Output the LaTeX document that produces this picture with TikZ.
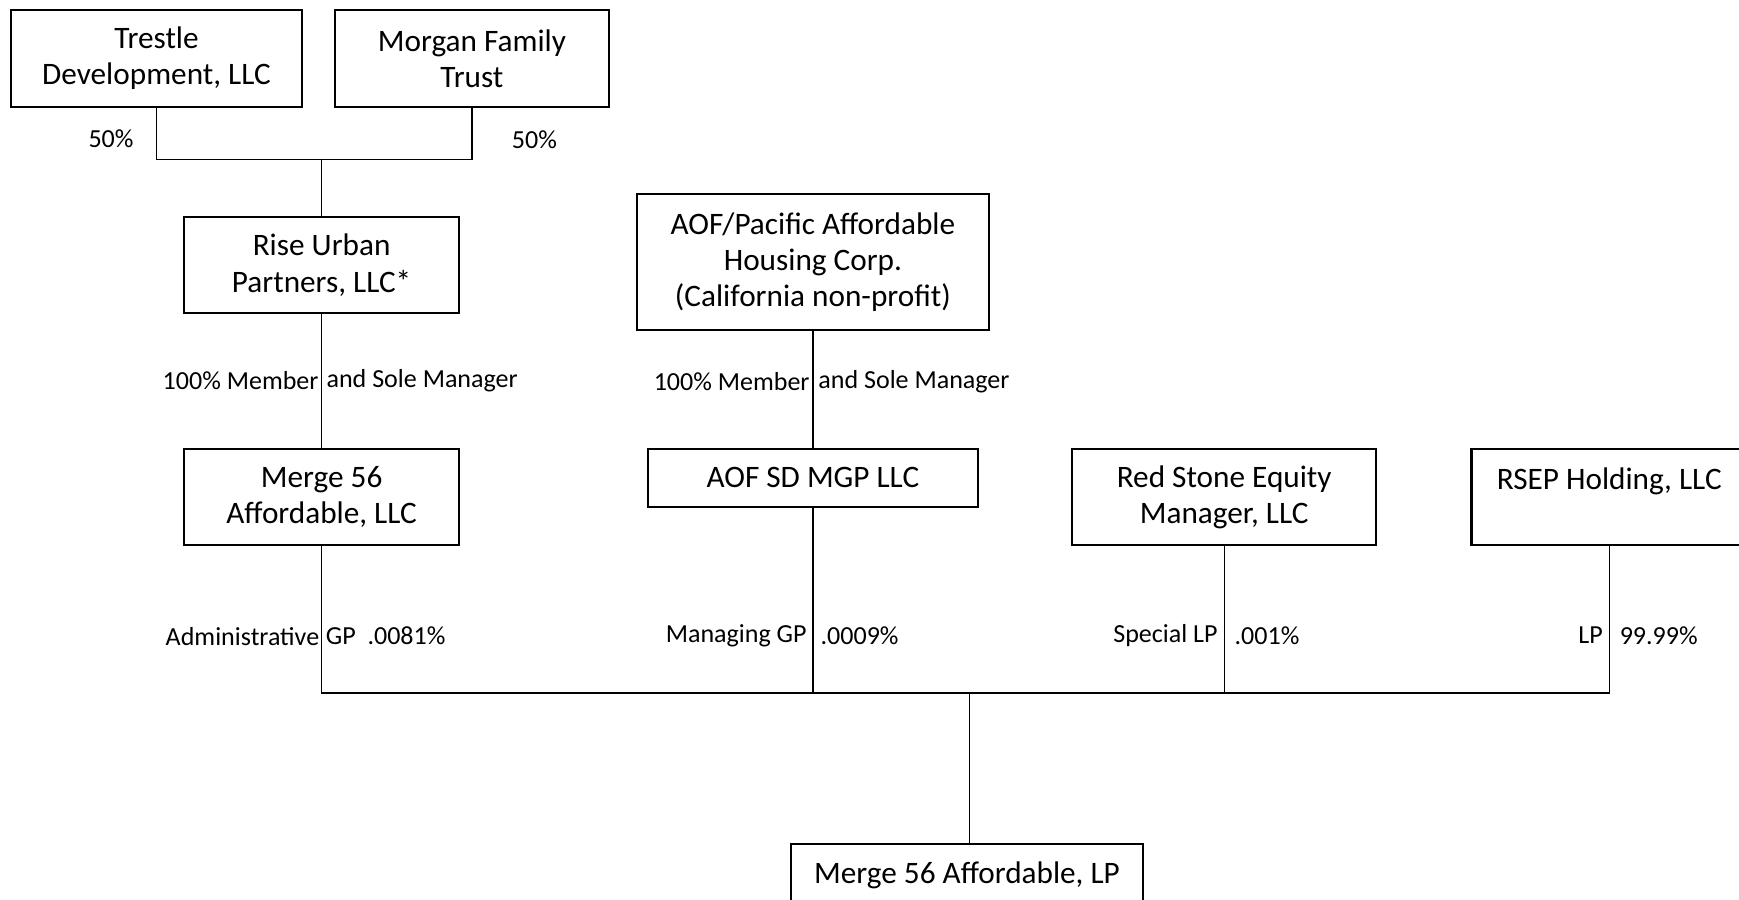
\documentclass[tikz,border=0pt]{standalone}
\usepackage{fontspec}
\setmainfont{Carlito}
\usetikzlibrary{positioning}

\begin{document}
\begin{tikzpicture}[line width=0.5pt,
  entity/.style={draw,line width=0.8pt,align=center,inner sep=2pt,font=\fontsize{12}{13.9}\selectfont},
  tag/.style={inner xsep=0.6pt,inner ysep=1pt}]
\useasboundingbox (0,0) rectangle (23.48,12.15);
% owners of Rise Urban
\node[entity,minimum width=3.93cm,minimum height=1.31cm] (trestle) at (2.113,11.36){Trestle\\Development, LLC};
\node[entity,minimum width=3.70cm,minimum height=1.31cm] (morgan) at (6.372,11.36){Morgan Family\\Trust};
\coordinate (topjoin) at (4.342,9.994);
\draw (trestle.south) |- (topjoin) -| (morgan.south);
\node (pctA) at (1.499,10.28){50\%};
\node (pctB) at (7.216,10.265){50\%};
\node[entity,minimum width=3.71cm,minimum height=1.30cm] (rise) at (4.342,8.57){Rise Urban\\Partners, LLC*};
\draw (topjoin) -- (rise.north);
% managing members
\node[entity,minimum width=3.71cm,minimum height=1.30cm] (mergellc) at (4.342,5.44){Merge 56\\Affordable, LLC};
\draw (rise.south) -- (mergellc.north);
\node[tag,anchor=east] (riseL) at (4.33,7.01){100\% Member};
\node[tag,anchor=west] (riseR) at (4.38,7.01){and Sole Manager};
\node[entity,minimum width=4.75cm,minimum height=1.84cm] (aofpac) at (10.976,8.614){AOF/Pacific Affordable\\Housing Corp.\\(California non-profit)};
\node[entity,minimum width=4.46cm,minimum height=0.78cm] (aofsd) at (10.976,5.70){AOF SD MGP LLC};
\draw (aofpac.south) -- (aofsd.north);
\node[tag,anchor=east] (aofL) at (10.96,7.0){100\% Member};
\node[tag,anchor=west] (aofR) at (11.02,7.0){and Sole Manager};
\node[entity,minimum width=4.10cm,minimum height=1.30cm] (redstone) at (16.529,5.44){Red Stone Equity\\Manager, LLC};
\node[entity,minimum width=3.72cm,minimum height=1.30cm] (rsep) at (21.728,5.44){RSEP Holding, LLC\\\mbox{}};
% partnership
\coordinate (bus) at (13.086,2.795);
\draw (mergellc.south) |- (bus);
\draw (aofsd.south) |- (bus);
\draw (redstone.south) |- (bus);
\draw (rsep.south) |- (bus);
\node[entity,minimum width=4.76cm,minimum height=0.84cm] (mergelp) at (13.056,0.33){Merge 56 Affordable, LP};
\draw (bus) -- (bus |- mergelp.north);
\node[tag,anchor=east] (admL) at (4.34,3.56){Administrative};
\node[tag,anchor=west] (admR) at (4.37,3.56){GP\ \ .0081\%};
\node[tag,anchor=east] (mgpL) at (10.92,3.57){Managing GP};
\node[tag,anchor=west] (mgpR) at (11.05,3.57){.0009\%};
\node[tag,anchor=east] (slpL) at (16.47,3.57){Special LP};
\node[tag,anchor=west] (slpR) at (16.64,3.57){.001\%};
\node[tag,anchor=east] (lpL) at (21.67,3.57){LP};
\node[tag,anchor=west] (lpR) at (21.84,3.57){99.99\%};
\end{tikzpicture}
\end{document}
